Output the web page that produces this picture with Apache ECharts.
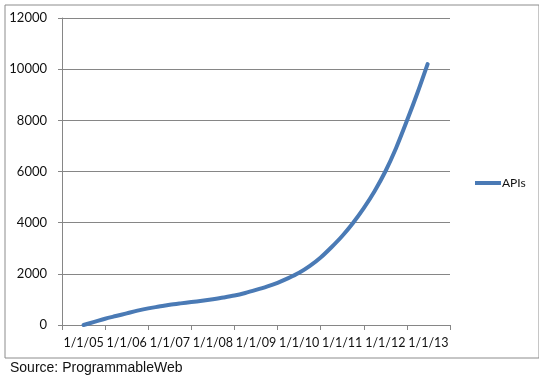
<!DOCTYPE html>
<html>
<head>
<meta charset="utf-8">
<script src="https://cdn.jsdelivr.net/npm/echarts@6/dist/echarts.min.js"></script>
<style>
html,body{margin:0;padding:0;background:#fff;}
#chart{width:539px;height:382px;}
</style>
</head>
<body>
<div id="chart"></div>
<script>
// Category labels (year bands) shown on the x axis
var categories = ['1/1/05','1/1/06','1/1/07','1/1/08','1/1/09','1/1/10','1/1/11','1/1/12','1/1/13'];
// Time of each sample, in decimal years
var years = [2005.00, 2005.25, 2005.50, 2005.75, 2006.00, 2006.25, 2006.50, 2006.75,
             2007.00, 2007.25, 2007.50, 2007.75, 2008.00, 2008.25, 2008.50, 2008.75,
             2009.00, 2009.25, 2009.50, 2009.75, 2010.00, 2010.25, 2010.50, 2010.75,
             2011.00, 2011.25, 2011.50, 2011.75, 2012.00, 2012.25, 2012.50, 2012.75, 2012.98];
// Cumulative number of APIs
var apis = [0, 120, 245, 350, 455, 560, 650, 720,
            790, 845, 895, 950, 1010, 1075, 1150, 1250,
            1370, 1500, 1650, 1830, 2040, 2310, 2640, 3040,
            3480, 3990, 4570, 5230, 6000, 6920, 7980, 9100, 10200];
var yTicks = [0, 2000, 4000, 6000, 8000, 10000, 12000];

var seriesData = years.map(function (y, i) { return [y, apis[i]]; });

var chart = echarts.init(document.getElementById('chart'), null, {renderer: 'canvas'});
var font = 'Lato, "Open Sans", sans-serif';
chart.setOption({
  animation: false,
  backgroundColor: '#fff',
  grid: {left: 62, right: 89, top: 18, bottom: 57, containLabel: false},
  legend: {
    data: ['APIs'], orient: 'vertical', left: 470, top: 172,
    itemWidth: 26, itemHeight: 4, itemGap: 2,
    icon: 'rect',
    textStyle: {fontFamily: font, fontSize: 12, color: '#111', padding: [0, 0, 0, -4]}
  },
  xAxis: [{
    type: 'category', data: categories, boundaryGap: true,
    axisLine: {lineStyle: {color: '#868686', width: 1}},
    axisTick: {show: true, length: 5, lineStyle: {color: '#868686'}},
    axisLabel: {fontFamily: font, fontSize: 12.5, color: '#111', margin: 11, interval: 0},
    splitLine: {show: false}
  }, {
    type: 'value', min: 2004.5, max: 2013.5, show: false
  }],
  yAxis: {
    type: 'value', min: yTicks[0], max: yTicks[yTicks.length - 1], interval: 2000,
    axisLine: {show: true, lineStyle: {color: '#868686', width: 1}},
    axisTick: {show: true, length: 4, lineStyle: {color: '#868686'}},
    axisLabel: {fontFamily: font, fontSize: 13, color: '#111', margin: 15,
                formatter: function (v) { return String(v); }},
    splitLine: {show: true, lineStyle: {color: '#868686', width: 1}}
  },
  series: [{
    name: 'APIs', type: 'line', xAxisIndex: 1, data: seriesData,
    smooth: 0.3, showSymbol: false, symbol: 'none',
    lineStyle: {color: '#4a7ab5', width: 4, cap: 'round', join: 'round'},
    itemStyle: {color: '#4a7ab5'}
  }],
  graphic: [{
    type: 'rect', left: 2.5, top: 2.5,
    shape: {x: 0, y: 0, width: 534, height: 353},
    style: {fill: 'none', stroke: '#8c8c8c', lineWidth: 1}, silent: true, z: -1
  }, {
    type: 'text', left: 10, top: 361,
    style: {text: 'Source: ProgrammableWeb', fontFamily: '"Liberation Sans", Arial, sans-serif', fontSize: 14, fill: '#111'}
  }]
});
</script>
</body>
</html>
